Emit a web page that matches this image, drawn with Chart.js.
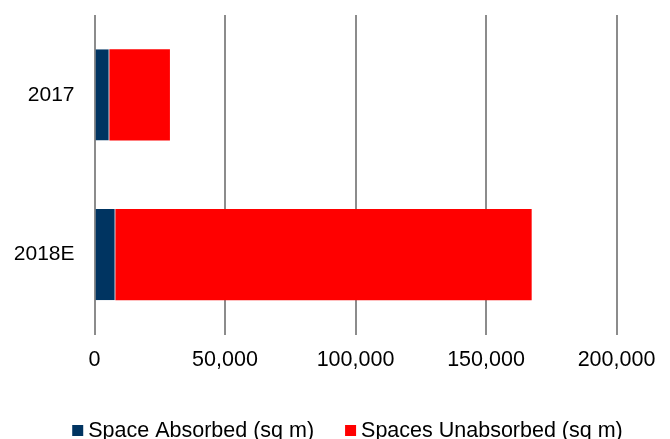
<!DOCTYPE html>
<html>
<head>
<meta charset="utf-8">
<script src="https://cdn.jsdelivr.net/npm/chart.js@4.4.1/dist/chart.umd.min.js"></script>
<style>
  html, body { margin: 0; padding: 0; background: #fff; }
  #wrap { width: 670px; height: 439px; position: relative; }
</style>
</head>
<body>
<div id="wrap"><canvas id="c" width="670" height="439"></canvas></div>
<script>
// Office space absorption, square metres
const categories = ['2017', '2018E'];
const spaceAbsorbed = [5700, 8000];
const spacesUnabsorbed = [23200, 159500];
const xTicks = [0, 50000, 100000, 150000, 200000];

const seriesNames = ['Space Absorbed (sq m)', 'Spaces Unabsorbed (sq m)'];
const seriesColors = ['#003461', '#ff0000'];

const FONT = '"Liberation Sans", Arial, sans-serif';

// Legend drawn along the bottom: small square swatch, then the series name
const bottomLegend = {
  id: 'bottomLegend',
  afterDraw(chart) {
    const ctx = chart.ctx;
    const box = 11, gapText = 5, gapItem = 31;
    ctx.save();
    ctx.font = '21.5px ' + FONT;
    ctx.textBaseline = 'alphabetic';
    ctx.textAlign = 'left';
    const items = chart.data.datasets.map(d => ({
      text: d.label, color: d.backgroundColor, w: ctx.measureText(d.label).width
    }));
    const total = items.reduce((s, it) => s + box + gapText + it.w, 0) + gapItem * (items.length - 1);
    let x = 347.5 - total / 2;
    const baseline = 437;
    items.forEach(it => {
      ctx.fillStyle = it.color;
      ctx.fillRect(x, baseline - 12, box, box);
      x += box + gapText;
      ctx.fillStyle = '#000';
      ctx.fillText(it.text, x, baseline);
      x += it.w + gapItem;
    });
    ctx.restore();
  }
};

new Chart(document.getElementById('c'), {
  type: 'bar',
  data: {
    labels: categories,
    datasets: [
      { label: seriesNames[0], data: spaceAbsorbed, backgroundColor: seriesColors[0],
        borderColor: '#7088a6', borderWidth: { right: 1, left: 0, top: 0, bottom: 0 }, borderSkipped: false },
      { label: seriesNames[1], data: spacesUnabsorbed, backgroundColor: seriesColors[1] }
    ]
  },
  options: {
    indexAxis: 'y',
    responsive: false,
    animation: false,
    layout: { padding: { left: 14.5, right: 53.5, top: 15, bottom: 0 } },
    datasets: { bar: { categoryPercentage: 0.57, barPercentage: 1 } },
    scales: {
      x: {
        stacked: true,
        min: 0, max: 200000,
        afterBuildTicks: (s) => { s.ticks = xTicks.map(v => ({ value: v })); },
        afterFit: (s) => { s.height = 104.5; s.paddingLeft = 0; s.paddingRight = 0; },
        ticks: {
          color: '#000', padding: 13,
          font: { family: FONT, size: 21.5 },
          callback: (v) => v.toLocaleString('en-US')
        },
        grid: { color: '#8c8c8c', lineWidth: 2, drawTicks: false },
        border: { display: false }
      },
      y: {
        stacked: true,
        afterFit: (s) => { s.width = 80; s.paddingTop = 0; s.paddingBottom = 0; },
        ticks: { color: '#000', padding: 20, font: { family: FONT, size: 21 } },
        grid: { display: false, drawTicks: false },
        border: { display: false }
      }
    },
    plugins: {
      tooltip: { enabled: false },
      legend: { display: false }
    }
  },
  plugins: [bottomLegend]
});
</script>
</body>
</html>
